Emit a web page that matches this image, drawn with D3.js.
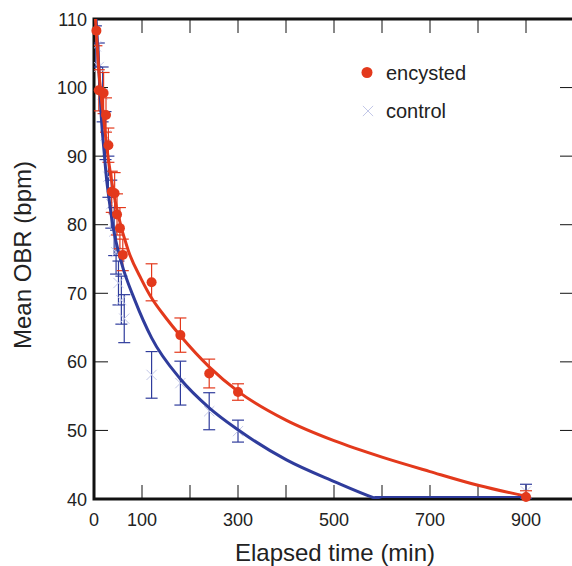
<!DOCTYPE html>
<html>
<head>
<meta charset="utf-8">
<script src="https://cdn.jsdelivr.net/npm/d3@7"></script>
<style>
  body { margin: 0; background: #fff; }
  text { font-family: "Liberation Sans", Arial, Helvetica, sans-serif; fill: #222; }
</style>
</head>
<body>
<div id="chart"></div>
<script>
// encysted: mean +/- error
var encTime = [5, 10, 20, 25, 30, 37, 43, 48, 54, 60, 120, 180, 240, 300, 900];
var encMean = [108.3, 99.6, 99.2, 96, 91.6, 84.8, 84.6, 81.5, 79.5, 75.6, 71.6, 63.9, 58.3, 55.6, 40.3];
var encErr  = [2.2, 3, 3, 2.5, 2.5, 3, 3, 3, 3, 2.3, 2.7, 2.5, 2.1, 1.2, 0.9];

// control
var ctlTime = [4, 10, 18, 24, 30, 36, 42, 46, 51, 57, 63, 120, 180, 240, 300, 900];
var ctlMean = [106, 103, 99, 93, 87, 83, 79, 76, 71.5, 69, 66.3, 58.1, 56.9, 52.8, 49.9, 41.1];
var ctlErr  = [3, 3.5, 4, 3.5, 3, 3.5, 3.5, 3.2, 3.2, 3.5, 3.5, 3.4, 3.2, 2.7, 1.6, 1.05];

// fitted curves
var encFitTime = [3, 10, 20, 30, 40, 50, 71, 99, 120, 150, 180, 241, 300, 400, 500, 600, 700, 800, 900];
var encFitVal  = [110, 102.5, 95.5, 89.5, 85, 81.5, 76.3, 72, 69.3, 66.4, 63.8, 59.2, 55.7, 51.5, 48.5, 46.1, 44, 42, 40.4];
var ctlFitTime = [3.5, 5.5, 8.3, 11.8, 15.3, 21, 26, 31, 40, 57, 85, 120, 180, 240, 300, 401, 502, 582, 640];
var ctlFitVal  = [111, 108.7, 105.3, 100.4, 95.6, 90.7, 86.8, 83.9, 79.6, 74.5, 69, 63.5, 57.5, 53.3, 50.1, 45.7, 42.5, 40.2, 38.9];
// control fit runs along the floor after it reaches 40
var ctlFloorTime = [584, 900];

var xTicks = [100, 200, 300, 400, 500, 600, 700, 800, 900];
var xLabels = [0, 100, 300, 500, 700, 900];
var yTicks = [50, 60, 70, 80, 90, 100];
var yLabels = [40, 50, 60, 70, 80, 90, 100, 110];

var width = 572, height = 566;
var red = '#e3391c', blue = '#2f3c9c', lightBlue = '#c3c8e8';

var x = d3.scaleLinear().domain([0, 1000]).range([94, 574]);
var y = d3.scaleLinear().domain([40, 110]).range([499, 19]);

var svg = d3.select('#chart').append('svg')
    .attr('width', width)
    .attr('height', height);

svg.append('defs').append('clipPath').attr('id', 'plot')
  .append('rect')
    .attr('x', x(0)).attr('y', y(110))
    .attr('width', x(1000) - x(0)).attr('height', y(40) - y(110));

// inward ticks
var tickLen = 14;
var ticks = svg.append('g').attr('stroke', '#111').attr('stroke-width', 1);
ticks.selectAll('line.bt').data(xTicks).enter().append('line')
    .attr('x1', x).attr('x2', x).attr('y1', y(40)).attr('y2', y(40) - tickLen);
ticks.selectAll('line.tt').data(xTicks).enter().append('line')
    .attr('x1', x).attr('x2', x).attr('y1', y(110)).attr('y2', y(110) + tickLen);
ticks.selectAll('line.lt').data(yTicks).enter().append('line')
    .attr('y1', y).attr('y2', y).attr('x1', x(0)).attr('x2', x(0) + tickLen);
ticks.selectAll('line.rt').data(yTicks).enter().append('line')
    .attr('y1', y).attr('y2', y).attr('x1', x(1000)).attr('x2', x(1000) - tickLen);

// frame
svg.append('rect')
    .attr('x', x(0)).attr('y', y(110))
    .attr('width', x(1000) - x(0)).attr('height', y(40) - y(110))
    .attr('fill', 'none').attr('stroke', '#111').attr('stroke-width', 3);

// tick labels
svg.selectAll('text.xl').data(xLabels).enter().append('text')
    .attr('x', x).attr('y', 526)
    .attr('text-anchor', 'middle')
    .style('font-size', '18px')
    .text(function (d) { return d; });
svg.selectAll('text.yl').data(yLabels).enter().append('text')
    .attr('x', 87).attr('y', function (d) { return y(d) + 6.5; })
    .attr('text-anchor', 'end')
    .style('font-size', '18px')
    .text(function (d) { return d; });

// axis titles
svg.append('text')
    .attr('x', 335).attr('y', 561)
    .attr('text-anchor', 'middle')
    .style('font-size', '24px')
    .text('Elapsed time (min)');
svg.append('text')
    .attr('transform', 'translate(31,255) rotate(-90)')
    .attr('text-anchor', 'middle')
    .style('font-size', '24px')
    .text('Mean OBR (bpm)');

var plot = svg.append('g').attr('clip-path', 'url(#plot)');

var line = d3.line()
    .x(function (d) { return x(d[0]); })
    .y(function (d) { return y(d[1]); })
    .curve(d3.curveMonotoneX);

var errorBars = function (g, times, means, errs, color) {
  var rows = times.map(function (t, i) { return { t: t, lo: means[i] - errs[i], hi: means[i] + errs[i] }; });
  var bars = g.append('g').attr('stroke', color).attr('stroke-width', 1.2);
  bars.selectAll('line.v').data(rows).enter().append('line')
      .attr('x1', function (d) { return x(d.t); })
      .attr('x2', function (d) { return x(d.t); })
      .attr('y1', function (d) { return y(d.lo); })
      .attr('y2', function (d) { return y(d.hi); });
  bars.selectAll('line.cap').data(rows.concat(rows).map(function (d, i) {
        return { t: d.t, v: i < rows.length ? d.lo : d.hi };
      })).enter().append('line')
      .attr('x1', function (d) { return x(d.t) - 6; })
      .attr('x2', function (d) { return x(d.t) + 6; })
      .attr('y1', function (d) { return y(d.v); })
      .attr('y2', function (d) { return y(d.v); });
};

// control
errorBars(plot, ctlTime, ctlMean, ctlErr, blue);
var cross = d3.symbol().type(d3.symbolX).size(70);
plot.selectAll('path.ctl').data(ctlTime).enter().append('path')
    .attr('d', cross)
    .attr('transform', function (d, i) { return 'translate(' + x(d) + ',' + y(ctlMean[i]) + ')'; })
    .attr('fill', 'none').attr('stroke', lightBlue).attr('stroke-width', 1);

// encysted
errorBars(plot, encTime, encMean, encErr, red);

plot.append('path')
    .datum(ctlFitTime.map(function (t, i) { return [t, ctlFitVal[i]]; }))
    .attr('d', line)
    .attr('fill', 'none').attr('stroke', blue).attr('stroke-width', 3);
svg.append('line')
    .attr('x1', x(ctlFloorTime[0])).attr('x2', x(ctlFloorTime[1]))
    .attr('y1', y(40) - 2).attr('y2', y(40) - 2)
    .attr('stroke', blue).attr('stroke-width', 2);
plot.append('path')
    .datum(encFitTime.map(function (t, i) { return [t, encFitVal[i]]; }))
    .attr('d', line)
    .attr('fill', 'none').attr('stroke', red).attr('stroke-width', 3);

svg.selectAll('circle.enc').data(encTime).enter().append('circle')
    .attr('cx', x)
    .attr('cy', function (d, i) { return y(encMean[i]); })
    .attr('r', 5)
    .attr('fill', red);

// legend
svg.append('circle').attr('cx', 367).attr('cy', 72.5).attr('r', 5.5).attr('fill', red);
svg.append('text').attr('x', 386).attr('y', 79.5).style('font-size', '20px').text('encysted');
svg.append('path').attr('d', cross)
    .attr('transform', 'translate(368,111)')
    .attr('fill', 'none').attr('stroke', lightBlue).attr('stroke-width', 1);
svg.append('text').attr('x', 386).attr('y', 118).style('font-size', '20px').text('control');
</script>
</body>
</html>
